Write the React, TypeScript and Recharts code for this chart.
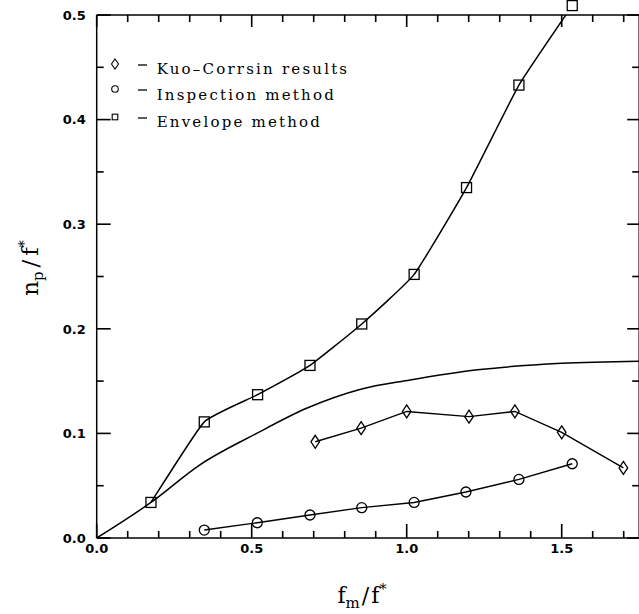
import React from 'react';
import { LineChart, Line, XAxis, YAxis, Legend } from 'recharts';

// ---- tick values ----
const xTicks = [0, 0.1, 0.2, 0.3, 0.4, 0.5, 0.6, 0.7, 0.8, 0.9, 1.0, 1.1, 1.2, 1.3, 1.4, 1.5, 1.6, 1.7];
const xLabelStep = 0.5;
const yTicks = [0, 0.05, 0.1, 0.15, 0.2, 0.25, 0.3, 0.35, 0.4, 0.45, 0.5];
const yLabelStep = 0.1;
const X_DOMAIN = [0, 1.75];
const Y_DOMAIN = [0, 0.5];

// ---- series (f_m/f*, n_p/f*) ----
const envelopeF = [0.175, 0.347, 0.519, 0.688, 0.855, 1.024, 1.193, 1.362, 1.534];
const envelopeN = [0.034, 0.111, 0.137, 0.165, 0.2046, 0.252, 0.335, 0.433, 0.509];

const inspectionF = [0.347, 0.518, 0.688, 0.855, 1.024, 1.191, 1.362, 1.534];
const inspectionN = [0.0076, 0.0146, 0.022, 0.029, 0.034, 0.044, 0.056, 0.071];

const kuoF = [0.705, 0.853, 1.0, 1.201, 1.349, 1.5, 1.699];
const kuoN = [0.092, 0.105, 0.121, 0.116, 0.121, 0.101, 0.067];

const curveF = [0, 0.175, 0.333, 0.516, 0.677, 0.849, 1.011, 1.237, 1.5, 1.75];
const curveN = [0, 0.034, 0.07, 0.1, 0.124, 0.142, 0.151, 0.161, 0.167, 0.169];

const legendLabels = ['Kuo\u2013Corrsin results', 'Inspection method', 'Envelope method'];

const toPoints = (f: number[], n: number[]) => f.map((x, i) => ({ x, y: n[i] }));
const envelopeData = toPoints(envelopeF, envelopeN);
const inspectionData = toPoints(inspectionF, inspectionN);
const kuoData = toPoints(kuoF, kuoN);
const curveData = toPoints(curveF, curveN);

// frame tick anchor points (on the frame, in data units) with the side they sit on
const frameTickPoints = [
  ...xTicks.map((v) => ({ x: v, y: Y_DOMAIN[0], side: 'b' })),
  ...xTicks.map((v) => ({ x: v, y: Y_DOMAIN[1], side: 't' })),
  ...yTicks.map((v) => ({ x: X_DOMAIN[0], y: v, side: 'l' })),
  ...yTicks.map((v) => ({ x: X_DOMAIN[1], y: v, side: 'r' })),
];

// ---- layout ----
const CHART_W = 645;
const CHART_H = 614;
const MARGIN = { top: 15, right: 5.8, bottom: 16, left: 36.7 };
const Y_AXIS_W = 60;
const X_AXIS_H = 60;

const INK = '#000';
const MAJOR_LEN = 14;
const MINOR_LEN = 7;
const TICK_W = 1.6;

const isMultiple = (v: number, step: number) => Math.abs(v / step - Math.round(v / step)) < 1e-6;
const fmt = (v: number) => v.toFixed(1);

// Cardinal-style smoothing curve factory (d3 curve interface)
const smoothCurve = (tension: number) => (context: any) => {
  let pts: number[][] = [];
  return {
    areaStart() {},
    areaEnd() {},
    lineStart() {
      pts = [];
    },
    point(x: number, y: number) {
      pts.push([+x, +y]);
    },
    lineEnd() {
      const n = pts.length;
      if (!n) return;
      context.moveTo(pts[0][0], pts[0][1]);
      for (let i = 0; i < n - 1; i++) {
        const p0 = pts[Math.max(i - 1, 0)];
        const p1 = pts[i];
        const p2 = pts[i + 1];
        const p3 = pts[Math.min(i + 2, n - 1)];
        const c1x = p1[0] + ((p2[0] - p0[0]) * tension) / 6;
        const c1y = p1[1] + ((p2[1] - p0[1]) * tension) / 6;
        const c2x = p2[0] - ((p3[0] - p1[0]) * tension) / 6;
        const c2y = p2[1] - ((p3[1] - p1[1]) * tension) / 6;
        context.bezierCurveTo(c1x, c1y, c2x, c2y, p2[0], p2[1]);
      }
    },
  };
};

// ---- markers ----
const DiamondDot = (p: any) => {
  const { cx, cy } = p;
  if (cx == null || cy == null) return null;
  return (
    <polygon
      key={p.key}
      points={`${cx},${cy - 6.5} ${cx + 4.3},${cy} ${cx},${cy + 6.5} ${cx - 4.3},${cy}`}
      fill="none"
      stroke={INK}
      strokeWidth={1.3}
    />
  );
};

const CircleDot = (p: any) => {
  const { cx, cy } = p;
  if (cx == null || cy == null) return null;
  return <circle key={p.key} cx={cx} cy={cy} r={5} fill="none" stroke={INK} strokeWidth={1.3} />;
};

const SquareDot = (p: any) => {
  const { cx, cy } = p;
  if (cx == null || cy == null) return null;
  return <rect key={p.key} x={cx - 5} y={cy - 5} width={10} height={10} fill="none" stroke={INK} strokeWidth={1.3} />;
};

// inward tick mark drawn at a frame anchor point
const FrameTick = (p: any) => {
  const { cx, cy, payload } = p;
  if (cx == null || cy == null || !payload) return null;
  const side = payload.side;
  const horizontalSide = side === 'b' || side === 't';
  const major = horizontalSide ? isMultiple(payload.x, xLabelStep) : isMultiple(payload.y, yLabelStep);
  let len = major ? MAJOR_LEN : MINOR_LEN;
  if (side === 't' || side === 'r') len = major ? MAJOR_LEN - 2 : MINOR_LEN;
  const h = TICK_W / 2;
  let r = { x: cx - h, y: cy - len, w: TICK_W, h: len };
  if (side === 't') r = { x: cx - h, y: cy, w: TICK_W, h: len };
  if (side === 'l') r = { x: cx, y: cy - h, w: len, h: TICK_W };
  if (side === 'r') r = { x: cx - len, y: cy - h, w: len, h: TICK_W };
  return <rect key={p.key} x={r.x} y={r.y} width={r.w} height={r.h} fill={INK} stroke="none" />;
};

// ---- tick labels ----
const labelFont = { fill: INK, fontSize: 13, fontFamily: 'DejaVu Sans', fontWeight: 'bold' as const };

const BottomTick = (p: any) => {
  const v = p.payload?.value as number;
  if (!isMultiple(v, xLabelStep)) return <g />;
  return (
    <text x={p.x} y={p.y + 15} textAnchor="middle" {...labelFont}>
      {fmt(v)}
    </text>
  );
};

const LeftTick = (p: any) => {
  const v = p.payload?.value as number;
  if (!isMultiple(v, yLabelStep)) return <g />;
  return (
    <text x={p.x - 11} y={p.y + 4.8} textAnchor="end" {...labelFont}>
      {fmt(v)}
    </text>
  );
};

// ---- axis titles ----
const XTitle = (props: any) => {
  const vb = props.viewBox || { x: 0, y: 0, width: 0, height: 0 };
  const cx = vb.x + vb.width / 2 - 6;
  const y = vb.y + 65;
  return (
    <text x={cx} y={y} textAnchor="middle" fontFamily="DejaVu Serif" fontSize={22} fill={INK}>
      f<tspan fontSize={15} dy={5}>m</tspan>
      <tspan dy={-5} dx={2}>/</tspan>
      <tspan dx={2}>f</tspan>
      <tspan fontSize={14} dy={-9}>*</tspan>
    </text>
  );
};

const YTitle = (props: any) => {
  const vb = props.viewBox || { x: 0, y: 0, width: 0, height: 0 };
  const bx = vb.x + 1;
  const cy = vb.y + 253;
  return (
    <text
      x={bx}
      y={cy}
      transform={`rotate(-90, ${bx}, ${cy})`}
      textAnchor="middle"
      fontFamily="DejaVu Serif"
      fontSize={23}
      fill={INK}
    >
      n<tspan fontSize={15} dy={5}>p</tspan>
      <tspan dy={-5} dx={4}>/</tspan>
      <tspan dx={4}>f</tspan>
      <tspan fontSize={14} dy={-9}>*</tspan>
    </text>
  );
};

// ---- legend ----
const LegendBox = () => {
  const rows = [
    { sy: 14, ty: 24 },
    { sy: 39, ty: 50 },
    { sy: 67, ty: 76.7 },
  ];
  return (
    <svg width={300} height={90} style={{ overflow: 'visible', display: 'block' }}>
      <polygon
        points={`15,${rows[0].sy - 5} 18.5,${rows[0].sy} 15,${rows[0].sy + 5} 11.5,${rows[0].sy}`}
        fill="none"
        stroke={INK}
        strokeWidth={1.1}
      />
      <circle cx={15} cy={rows[1].sy} r={3.3} fill="none" stroke={INK} strokeWidth={1.1} />
      <rect x={12.2} y={rows[2].sy - 2.8} width={5.6} height={5.6} fill="none" stroke={INK} strokeWidth={1.1} />
      {rows.map((r, i) => (
        <g key={i}>
          <line x1={38} y1={r.sy + 1} x2={47} y2={r.sy + 1} stroke={INK} strokeWidth={1.3} />
          <text x={56.7} y={r.ty} fontFamily="DejaVu Serif" fontSize={15} letterSpacing={2.2} fill={INK}>
            {legendLabels[i]}
          </text>
        </g>
      ))}
    </svg>
  );
};

const axisLineStyle = { stroke: INK, strokeWidth: 1.5 };

export default function App() {
  return (
    <div style={{ position: 'fixed', left: 0, top: 0, width: 639, height: 614, overflow: 'hidden', background: '#fff' }}>
      <style>{`.recharts-line-dots{clip-path:none !important;}`}</style>
      <LineChart width={CHART_W} height={CHART_H} margin={MARGIN}>
        <XAxis
          xAxisId="x"
          orientation="bottom"
          type="number"
          dataKey="x"
          domain={X_DOMAIN}
          allowDataOverflow
          ticks={xTicks}
          interval={0}
          height={X_AXIS_H}
          tickSize={0}
          tickMargin={0}
          tick={BottomTick}
          axisLine={axisLineStyle}
          tickLine={false}
          label={{ content: XTitle }}
        />
        <XAxis
          xAxisId="xTop"
          orientation="top"
          mirror
          type="number"
          domain={X_DOMAIN}
          allowDataOverflow
          ticks={xTicks}
          interval={0}
          height={1}
          tick={false}
          axisLine={axisLineStyle}
          tickLine={false}
        />
        <YAxis
          yAxisId="y"
          orientation="left"
          type="number"
          dataKey="y"
          domain={Y_DOMAIN}
          allowDataOverflow
          ticks={yTicks}
          interval={0}
          width={Y_AXIS_W}
          tickSize={0}
          tickMargin={0}
          tick={LeftTick}
          axisLine={axisLineStyle}
          tickLine={false}
          label={{ content: YTitle }}
        />
        <YAxis
          yAxisId="yRight"
          orientation="right"
          mirror
          type="number"
          domain={Y_DOMAIN}
          allowDataOverflow
          ticks={yTicks}
          interval={0}
          width={1}
          tick={false}
          axisLine={axisLineStyle}
          tickLine={false}
        />

        <Legend
          layout="vertical"
          align="center"
          verticalAlign="middle"
          wrapperStyle={{ left: 100, top: 50, width: 300, height: 90 }}
          content={() => <LegendBox />}
        />

        <Line
          xAxisId="x"
          yAxisId="y"
          data={frameTickPoints}
          dataKey="y"
          type="linear"
          stroke="none"
          strokeWidth={0}
          dot={FrameTick}
          activeDot={false}
          legendType="none"
          isAnimationActive={false}
        />
        <Line
          xAxisId="x"
          yAxisId="y"
          data={curveData}
          dataKey="y"
          type="monotone"
          stroke={INK}
          strokeWidth={1.5}
          dot={false}
          activeDot={false}
          isAnimationActive={false}
        />
        <Line
          xAxisId="x"
          yAxisId="y"
          data={envelopeData}
          dataKey="y"
          type={smoothCurve(0.4) as any}
          stroke={INK}
          strokeWidth={1.5}
          dot={SquareDot}
          activeDot={false}
          isAnimationActive={false}
        />
        <Line
          xAxisId="x"
          yAxisId="y"
          data={inspectionData}
          dataKey="y"
          type="linear"
          stroke={INK}
          strokeWidth={1.4}
          dot={CircleDot}
          activeDot={false}
          isAnimationActive={false}
        />
        <Line
          xAxisId="x"
          yAxisId="y"
          data={kuoData}
          dataKey="y"
          type="linear"
          stroke={INK}
          strokeWidth={1.4}
          dot={DiamondDot}
          activeDot={false}
          isAnimationActive={false}
        />
      </LineChart>
    </div>
  );
}
